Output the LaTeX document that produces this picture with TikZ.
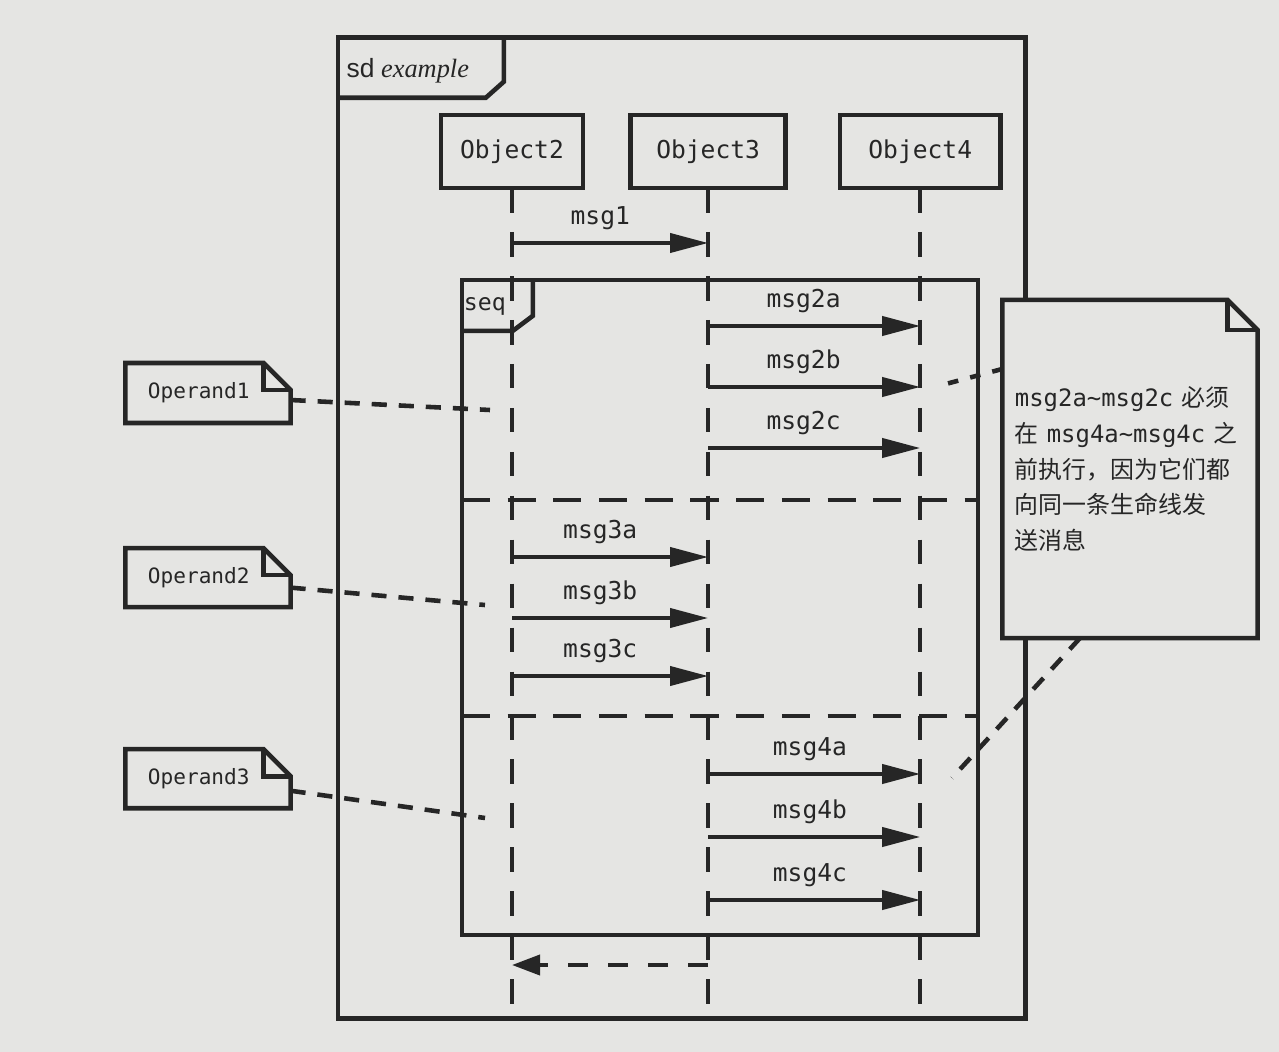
\documentclass[tikz,border=0pt]{standalone}
\usepackage{fontspec}
\setmainfont{Liberation Serif}
\setsansfont{Liberation Sans}
\setmonofont{DejaVu Sans Mono}
\newfontfamily\cjkfont{Noto Sans CJK SC}
\usepackage{tikz}
\usetikzlibrary{arrows.meta, positioning}
\usepackage{xcolor}
\definecolor{pagebg}{RGB}{229,229,227}
\definecolor{ink}{RGB}{38,38,38}
\newcommand{\umlfont}{\ttfamily\fontsize{7}{8.5}\selectfont}
\newcommand{\dogear}[2]{%
  \draw[notebox] (#1.north west) -- ([xshift=-#2]#1.north east) -- ([yshift=-#2]#1.north east) -- (#1.south east) -- (#1.south west) -- cycle;
  \draw[notebox] ([xshift=-#2]#1.north east) |- ([yshift=-#2]#1.north east);
}
\tikzstyle{frame}    = [rectangle, draw=ink, line width=1.3pt, outer sep=0pt]
\tikzstyle{object}   = [rectangle, draw=ink, line width=1.3pt, outer sep=0pt, minimum width=1.42cm, minimum height=0.73cm, text=ink]
\tikzstyle{lifeline} = [draw=ink, line width=1.1pt, dash pattern=on 7pt off 5.5pt]
\tikzstyle{msg}      = [draw=ink, line width=1.1pt, -{Triangle[length=0.38cm,width=0.19cm]}]
\tikzstyle{retmsg}   = [draw=ink, line width=1.1pt, dash pattern=on 5.7pt off 5.7pt, -{Triangle[length=0.28cm,width=0.2cm]}]
\tikzstyle{opsep}    = [draw=ink, line width=1.2pt, dash pattern=on 8pt off 5pt]
\tikzstyle{note}     = [rectangle, fill=pagebg, outer sep=0pt, text=ink]
\tikzstyle{opnote}   = [note, minimum width=1.65cm, minimum height=0.59cm, text width=1.2cm, align=left, font=\ttfamily\fontsize{6}{7.5}\selectfont]
\tikzstyle{notebox}  = [draw=ink, line width=1.3pt, line join=miter]
\tikzstyle{notelink} = [draw=ink, line width=1.3pt, dash pattern=on 4.3pt off 3.4pt]

\begin{document}
\begin{tikzpicture}[x=0.01cm, y=-0.01cm, every node/.style={font=\umlfont, text=ink}]
  % Page
  \useasboundingbox (0,0) rectangle (1279,1052);
  \fill[pagebg] (0,0) rectangle (1279,1052);

  % sd frame
  \node[frame, minimum width=6.87cm, minimum height=9.8cm] (sd) at (681.5,528) {};
  \draw[frame] ([yshift=-0.6cm]sd.north west) -- ++(148,0) -- ++(18,-16) -- ++(0,-44);
  \node[font=\fontsize{7.5}{9}\selectfont] (sdlabel) at ([xshift=0.7cm,yshift=-0.33cm]sd.north west) {{\sffamily sd} {\rmfamily\itshape example}};

  % Objects
  \node[object] (o2) at (512,151.5) {Object2};
  \node[object, minimum width=1.55cm, right=0.475cm of o2] (o3) {Object3};
  \node[object, minimum width=1.6cm, right=0.545cm of o3] (o4) {Object4};

  % Lifelines
  \foreach \o in {o2,o3,o4}
    \draw[lifeline] (\o.south) -- (\o |- sd.south);

  % Message rows
  \coordinate (m1) at (0,243);
  \coordinate (m2a) at (0,326);
  \coordinate (m2b) at (0,387);
  \coordinate (m2c) at (0,448);
  \coordinate (sep1) at (0,500);
  \coordinate (m3a) at (0,557);
  \coordinate (m3b) at (0,618);
  \coordinate (m3c) at (0,676);
  \coordinate (sep2) at (0,716);
  \coordinate (m4a) at (0,774);
  \coordinate (m4b) at (0,837);
  \coordinate (m4c) at (0,900);
  \coordinate (mret) at (0,965);

  \draw[msg] (o2 |- m1) -- node[above, pos=0.45]{msg1} (o3 |- m1);

  % seq fragment
  \node[frame, minimum width=5.16cm, minimum height=6.55cm] (seq) at (720,607.5) {};
  \draw[frame] ([yshift=-0.51cm]seq.north west) -- ++(51,0) -- ++(20,-15) -- ++(0,-36);
  \node[font=\ttfamily\fontsize{6.6}{8}\selectfont] (seqlabel) at ([xshift=0.23cm,yshift=-0.27cm]seq.north west) {seq};
  \draw[opsep] (seq.west |- sep1) -- (seq.east |- sep1);
  \draw[opsep] (seq.west |- sep2) -- (seq.east |- sep2);

  % Operand messages
  \foreach \r/\t in {m2a/msg2a, m2b/msg2b, m2c/msg2c}
    \draw[msg] (o3 |- \r) -- node[above, pos=0.45]{\t} (o4 |- \r);
  \foreach \r/\t in {m3a/msg3a, m3b/msg3b, m3c/msg3c}
    \draw[msg] (o2 |- \r) -- node[above, pos=0.45]{\t} (o3 |- \r);
  \foreach \r/\t in {m4a/msg4a, m4b/msg4b, m4c/msg4c}
    \draw[msg] (o3 |- \r) -- node[above, pos=0.48]{\t} (o4 |- \r);

  % Return
  \draw[retmsg] (o3 |- mret) -- (o2 |- mret);

  % Operand notes
  \node[opnote, minimum height=0.6cm] (op1) at (208,393) {Operand1};
  \dogear{op1}{0.27cm}
  \node[opnote, below=1.25cm of op1] (op2) {Operand2};
  \dogear{op2}{0.27cm}
  \node[opnote, below=1.42cm of op2] (op3) {Operand3};
  \dogear{op3}{0.27cm}

  \coordinate (op1end) at (490,410);
  \coordinate (op2end) at (485,605);
  \coordinate (op3end) at (485,818);
  \draw[notelink] ([yshift=-0.07cm]op1.east) -- (op1end);
  \draw[notelink] ([yshift=-0.1cm]op2.east) -- (op2end);
  \draw[notelink] ([yshift=-0.12cm]op3.east) -- (op3end);

  % Constraint note
  \node[note, minimum width=2.55cm, minimum height=3.38cm, inner xsep=0.04cm, text width=2.3cm, align=left, font=\cjkfont\fontsize{6.8}{10.2}\selectfont] (bignote) at (1130,469)
    {{\ttfamily msg2a\textasciitilde msg2c} 必须\\在 {\ttfamily msg4a\textasciitilde msg4c} 之\\前执行，因为它们都\\向同一条生命线发\\送消息};
  \dogear{bignote}{0.3cm}

  \coordinate (n2b) at (942,385);
  \coordinate (n4a) at (952,778);
  \draw[notelink, dash pattern=on 3pt off 3.5pt] ([yshift=1.0cm]bignote.west) -- (n2b);
  \draw[notelink] ([xshift=-0.5cm]bignote.south) -- (n4a);
\end{tikzpicture}
\end{document}
